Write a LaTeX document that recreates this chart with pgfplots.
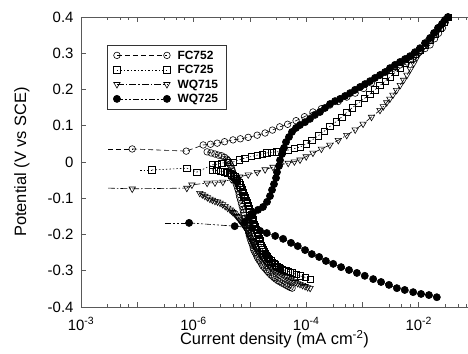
\documentclass[border=0pt]{standalone}
\usepackage{fontspec}
\setmainfont{Liberation Sans}
\usepackage{pgfplots}
\pgfplotsset{compat=1.18}
\pgfplotsset{
  sA/.style={black, line width=0.6pt, dash pattern=on 5pt off 3pt, mark=o, mark size=3.3pt, mark options={solid, black, line width=0.6pt}},
  sB/.style={black, line width=0.6pt, dash pattern=on 1.5pt off 2pt, mark=square, mark size=3.2pt, mark options={solid, black, line width=0.6pt}},
  sC/.style={black, line width=0.6pt, dash pattern=on 7pt off 2pt on 1.5pt off 2pt, mark=triangle, mark size=3.7pt, mark options={solid, black, line width=0.6pt, rotate=180}},
  sD/.style={black, line width=0.6pt, dash pattern=on 6pt off 2pt on 2pt off 2pt on 2pt off 2pt, mark=*, mark size=3.6pt, mark options={solid, black, fill=black}},
}
\begin{document}
\begin{tikzpicture}
\useasboundingbox (-81bp,-47bp) rectangle (387bp,307bp);
\begin{axis}[
  at={(0,0)}, anchor=south west,
  scale only axis, width=387bp, height=290bp,
  xmin=-8, xmax=-1.126, ymin=-0.4, ymax=0.4,
  axis y line*=left,
  axis line style={black!65, line width=0.8bp},
  every tick/.style={black!65, line width=0.8bp},
  tick align=inside,
  major tick length=5bp, minor tick length=3bp,
  xtick={-8,-7,-6,-5,-4,-3,-2},
  xticklabels={10\textsuperscript{-3},,10\textsuperscript{-6},,10\textsuperscript{-4},,10\textsuperscript{-2}},
  minor xtick={-7.523,-7.301,-7.155,-6.523,-6.301,-6.155,-5.523,-5.301,-5.155,-4.523,-4.301,-4.155,-3.523,-3.301,-3.155,-2.523,-2.301,-2.155,-1.523,-1.301,-1.155},
  ytick={-0.4,-0.3,-0.2,-0.1,0,0.1,0.2,0.3,0.4},
  yticklabels={-0.4,-0.3,-0.2,-0.1,0,0.1,0.2,0.3,0.4},
  tick label style={font=\fontsize{15}{18}\selectfont},
  xticklabel style={anchor=base, yshift=-23bp},
  yticklabel style={anchor=east, xshift=-4bp},
  xlabel={Current density (mA cm\textsuperscript{-2})},
  ylabel={Potential (V vs SCE)},
  label style={font=\fontsize{16.5}{19}\selectfont},
  xlabel style={at={(axis description cs:0.5,-0.1310)}, anchor=base},
  ylabel style={at={(axis description cs:-0.1420,0.5)}, anchor=base},
  legend style={at={(axis description cs:0.0672,0.9034)}, anchor=north west,
    draw=black!80, line width=0.7pt, fill=white, inner xsep=6bp, inner ysep=3bp,
    font=\fontsize{12}{14}\selectfont\bfseries, row sep=0.5bp, column sep=5bp,
    nodes={inner sep=2bp, text height=9bp, text depth=1bp}},
  legend cell align=left,
  legend image code/.code={\draw[#1] plot coordinates {(0bp,0bp) (50bp,0bp)};},
]
% ---------- FC752 ----------
\addplot[sA, no marks, forget plot] coordinates {(-7.52,0.036) (-7.09,0.036)};
\addplot[sA] coordinates {
(-7.09,0.036) (-6.13,0.030) (-5.83,0.047) (-5.70,0.049) (-5.58,0.052) (-5.45,0.056) (-5.30,0.061)
(-5.17,0.064) (-5.03,0.068) (-4.87,0.074) (-4.73,0.080) (-4.60,0.088) (-4.47,0.097) (-4.33,0.104)
(-4.18,0.114) (-4.03,0.125) (-3.88,0.138) (-3.73,0.147) (-3.58,0.157) (-3.43,0.167) (-3.28,0.179)
(-3.13,0.190) (-2.98,0.203) (-2.84,0.218) (-2.69,0.240) (-2.57,0.250) (-2.45,0.259) (-2.33,0.268)
(-2.21,0.276) (-2.10,0.290) (-1.99,0.303) (-1.89,0.313) (-1.80,0.323) (-1.72,0.340) (-1.65,0.355)
(-1.58,0.370) (-1.53,0.385) (-1.48,0.400)};
\addlegendentry{FC752}
\addplot[sA, forget plot] coordinates {
(-5.76,0.028) (-5.69,0.025) (-5.62,0.022) (-5.56,0.019) (-5.50,0.017) (-5.45,0.013) (-5.41,0.008) (-5.39,0.004)
(-5.37,-0.001) (-5.355,-0.006) (-5.34,-0.011) (-5.325,-0.018) (-5.31,-0.025) (-5.295,-0.032) (-5.28,-0.039)
(-5.27,-0.046) (-5.26,-0.052) (-5.245,-0.059) (-5.23,-0.066) (-5.215,-0.074) (-5.20,-0.081) (-5.19,-0.089)
(-5.18,-0.097) (-5.165,-0.105) (-5.15,-0.114) (-5.135,-0.123) (-5.12,-0.132) (-5.11,-0.140) (-5.10,-0.147)
(-5.085,-0.155) (-5.07,-0.163) (-5.06,-0.169) (-5.05,-0.175) (-5.04,-0.182) (-5.03,-0.188) (-5.02,-0.196)
(-5.01,-0.203) (-4.995,-0.211) (-4.98,-0.218) (-4.965,-0.224) (-4.95,-0.230) (-4.94,-0.237) (-4.93,-0.243)
(-4.91,-0.249) (-4.89,-0.254) (-4.875,-0.260) (-4.86,-0.265) (-4.835,-0.271) (-4.81,-0.276) (-4.79,-0.282)
(-4.77,-0.287) (-4.74,-0.292) (-4.71,-0.297) (-4.685,-0.302) (-4.66,-0.306) (-4.63,-0.311) (-4.60,-0.315)
(-4.57,-0.319) (-4.54,-0.323) (-4.505,-0.327) (-4.47,-0.330) (-4.43,-0.334) (-4.39,-0.337) (-4.355,-0.340)
(-4.32,-0.343) (-4.285,-0.346) (-4.25,-0.348)};
% ---------- FC725 ----------
\addplot[sB, no marks, forget plot] coordinates {(-6.95,-0.022) (-6.74,-0.022)};
\addplot[sB] coordinates {
(-6.74,-0.022) (-6.12,-0.017) (-5.94,-0.028) (-5.67,-0.008) (-5.58,-0.006) (-5.50,-0.003) (-5.40,-0.001)
(-5.30,0.000) (-5.19,0.006) (-5.09,0.011) (-4.98,0.015) (-4.87,0.019) (-4.78,0.022) (-4.70,0.025)
(-4.61,0.027) (-4.52,0.028) (-4.42,0.030) (-4.32,0.033) (-4.21,0.037) (-4.11,0.041) (-4.00,0.050)
(-3.90,0.060) (-3.79,0.072) (-3.68,0.085) (-3.58,0.098) (-3.47,0.111) (-3.37,0.124) (-3.28,0.137)
(-3.18,0.150) (-3.08,0.162) (-2.97,0.175) (-2.87,0.187) (-2.78,0.199) (-2.69,0.211) (-2.60,0.223)
(-2.51,0.235) (-2.42,0.247) (-2.33,0.259) (-2.24,0.272) (-2.16,0.285) (-2.07,0.297) (-1.98,0.309)
(-1.89,0.323) (-1.80,0.337) (-1.71,0.353) (-1.62,0.370) (-1.55,0.385) (-1.48,0.400)};
\addlegendentry{FC725}
\addplot[sB, forget plot] coordinates {
(-5.67,-0.022) (-5.60,-0.023) (-5.53,-0.025) (-5.46,-0.027) (-5.39,-0.030) (-5.36,-0.032) (-5.33,-0.035)
(-5.30,-0.038) (-5.27,-0.041) (-5.245,-0.046) (-5.22,-0.051) (-5.20,-0.057) (-5.18,-0.063) (-5.16,-0.070)
(-5.14,-0.077) (-5.125,-0.084) (-5.11,-0.091) (-5.09,-0.098) (-5.07,-0.106) (-5.05,-0.113) (-5.03,-0.121)
(-5.015,-0.129) (-5.00,-0.137) (-4.98,-0.144) (-4.96,-0.152) (-4.95,-0.158) (-4.94,-0.165) (-4.925,-0.172)
(-4.91,-0.179) (-4.89,-0.187) (-4.87,-0.195) (-4.855,-0.202) (-4.84,-0.210) (-4.825,-0.217) (-4.81,-0.224)
(-4.80,-0.230) (-4.79,-0.237) (-4.77,-0.242) (-4.75,-0.247) (-4.73,-0.252) (-4.71,-0.257) (-4.69,-0.261)
(-4.67,-0.265) (-4.65,-0.269) (-4.63,-0.273) (-4.60,-0.277) (-4.57,-0.280) (-4.545,-0.284) (-4.52,-0.287)
(-4.49,-0.290) (-4.46,-0.293) (-4.425,-0.296) (-4.39,-0.298) (-4.355,-0.300) (-4.32,-0.302) (-4.285,-0.304)
(-4.25,-0.306) (-4.18,-0.310) (-4.11,-0.314) (-4.02,-0.318) (-3.93,-0.323)};
% ---------- WQ715 ----------
\addplot[sC, no marks, forget plot] coordinates {(-7.52,-0.072) (-7.09,-0.074)};
\addplot[sC] coordinates {
(-7.09,-0.074) (-6.12,-0.072) (-6.03,-0.063) (-5.76,-0.058) (-5.62,-0.057) (-5.48,-0.055) (-5.33,-0.048)
(-5.18,-0.041) (-5.03,-0.035) (-4.87,-0.028) (-4.73,-0.021) (-4.59,-0.014) (-4.46,-0.008) (-4.32,-0.003)
(-4.21,0.001) (-4.11,0.006) (-4.00,0.015) (-3.88,0.025) (-3.73,0.036) (-3.58,0.047) (-3.43,0.060)
(-3.28,0.074) (-3.13,0.089) (-2.99,0.105) (-2.84,0.124) (-2.69,0.143) (-2.63,0.153) (-2.57,0.164)
(-2.515,0.174) (-2.46,0.185) (-2.395,0.198) (-2.33,0.212) (-2.27,0.226) (-2.21,0.240) (-2.15,0.256)
(-2.09,0.272) (-2.035,0.288) (-1.98,0.303) (-1.925,0.314) (-1.87,0.325) (-1.82,0.335) (-1.77,0.345)
(-1.695,0.358) (-1.62,0.372) (-1.55,0.386) (-1.48,0.400)};
\addlegendentry{WQ715}
\addplot[sC, forget plot] coordinates {
(-5.89,-0.086) (-5.845,-0.090) (-5.80,-0.094) (-5.755,-0.098) (-5.71,-0.102) (-5.665,-0.105) (-5.62,-0.108)
(-5.575,-0.110) (-5.53,-0.113) (-5.485,-0.117) (-5.44,-0.122) (-5.395,-0.127) (-5.35,-0.132) (-5.325,-0.135)
(-5.30,-0.139) (-5.275,-0.142) (-5.25,-0.146) (-5.23,-0.150) (-5.21,-0.153) (-5.195,-0.157) (-5.18,-0.160)
(-5.16,-0.164) (-5.14,-0.167) (-5.125,-0.171) (-5.11,-0.174) (-5.095,-0.178) (-5.08,-0.181) (-5.065,-0.185)
(-5.05,-0.188) (-5.035,-0.193) (-5.02,-0.198) (-5.01,-0.203) (-5.00,-0.207) (-4.985,-0.211) (-4.97,-0.215)
(-4.96,-0.219) (-4.95,-0.223) (-4.93,-0.228) (-4.91,-0.233) (-4.89,-0.238) (-4.87,-0.243) (-4.85,-0.248)
(-4.83,-0.253) (-4.81,-0.258) (-4.79,-0.262) (-4.76,-0.267) (-4.73,-0.272) (-4.705,-0.277) (-4.68,-0.281)
(-4.65,-0.286) (-4.62,-0.290) (-4.585,-0.294) (-4.55,-0.298) (-4.515,-0.302) (-4.48,-0.305) (-4.445,-0.309)
(-4.41,-0.312) (-4.375,-0.316) (-4.34,-0.319) (-4.305,-0.323) (-4.27,-0.326) (-4.23,-0.329) (-4.19,-0.332)
(-4.15,-0.335) (-4.11,-0.337) (-4.065,-0.340) (-4.02,-0.343) (-3.975,-0.346) (-3.93,-0.348)};
% ---------- WQ725 ----------
\addplot[sD, no marks, forget plot] coordinates {(-6.51,-0.168) (-6.08,-0.168)};
\addplot[sD] coordinates {
(-6.08,-0.168) (-5.27,-0.177) (-4.96,-0.182) (-4.82,-0.190) (-4.70,-0.196) (-4.55,-0.204) (-4.41,-0.212)
(-4.27,-0.223) (-4.15,-0.232) (-4.02,-0.243) (-3.90,-0.254) (-3.77,-0.262) (-3.65,-0.273) (-3.52,-0.281)
(-3.38,-0.290) (-3.24,-0.298) (-3.10,-0.306) (-2.96,-0.314) (-2.81,-0.323) (-2.67,-0.331) (-2.53,-0.339)
(-2.39,-0.348) (-2.25,-0.353) (-2.10,-0.359) (-1.96,-0.364) (-1.82,-0.367) (-1.68,-0.373)};
\addlegendentry{WQ725}
\addplot[sD, forget plot] coordinates {
(-5.087,-0.166) (-5.016,-0.152) (-4.945,-0.141) (-4.856,-0.132) (-4.767,-0.124) (-4.696,-0.110)
(-4.643,-0.094) (-4.607,-0.077) (-4.572,-0.061) (-4.536,-0.044) (-4.519,-0.028) (-4.483,-0.011)
(-4.465,0.005) (-4.430,0.022) (-4.394,0.039) (-4.359,0.055) (-4.306,0.069) (-4.252,0.083)
(-4.181,0.094) (-4.110,0.102) (-4.021,0.110) (-3.933,0.119) (-3.844,0.130) (-3.755,0.138)
(-3.666,0.149) (-3.577,0.160) (-3.488,0.168) (-3.400,0.174) (-3.311,0.182) (-3.222,0.190)
(-3.133,0.199) (-3.044,0.207) (-2.956,0.215) (-2.867,0.223) (-2.778,0.232) (-2.689,0.240)
(-2.600,0.248) (-2.512,0.259) (-2.423,0.268) (-2.334,0.276) (-2.245,0.284) (-2.156,0.292)
(-2.068,0.303) (-1.979,0.314) (-1.890,0.328) (-1.801,0.342) (-1.730,0.356) (-1.659,0.370)
(-1.588,0.381) (-1.535,0.392) (-1.481,0.400)};
\end{axis}
\end{tikzpicture}
\end{document}
